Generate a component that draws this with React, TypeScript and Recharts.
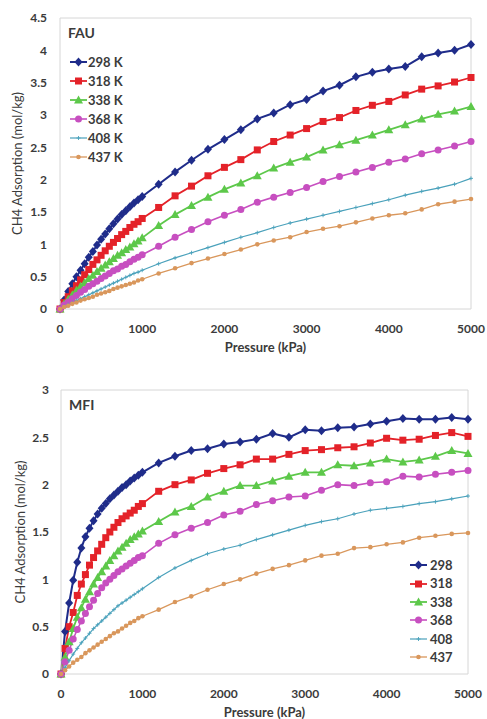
import { LineChart, Line, XAxis, YAxis, ReferenceLine, Label } from 'recharts'

// pressure steps (kPa): every 50 up to 1000, then every 200
const pressure = [
  0, 50, 100, 150, 200, 250, 300, 350, 400, 450, 500, 550, 600, 650, 700, 750, 800, 850, 900, 950, 1000,
  1200, 1400, 1600, 1800, 2000, 2200, 2400, 2600, 2800, 3000, 3200, 3400, 3600, 3800, 4000, 4200, 4400, 4600, 4800, 5000,
]

// FAU uptake (mol/kg)
const fau298 = [
  0, 0.14, 0.27, 0.39, 0.5, 0.6, 0.7, 0.8, 0.89, 0.99, 1.08, 1.16, 1.24, 1.32, 1.39, 1.46, 1.52, 1.58, 1.64, 1.69, 1.74,
  1.93, 2.12, 2.3, 2.47, 2.62, 2.77, 2.94, 3.03, 3.16, 3.24, 3.37, 3.46, 3.59, 3.66, 3.71, 3.75, 3.9, 3.96, 4.0, 4.09,
]
const fau318 = [
  0, 0.1, 0.19, 0.28, 0.36, 0.45, 0.53, 0.61, 0.69, 0.76, 0.83, 0.9, 0.97, 1.03, 1.09, 1.15, 1.2, 1.26, 1.31, 1.35, 1.4,
  1.57, 1.75, 1.9, 2.06, 2.19, 2.31, 2.46, 2.59, 2.69, 2.79, 2.9, 2.96, 3.07, 3.15, 3.21, 3.31, 3.4, 3.45, 3.51, 3.58,
]
const fau338 = [
  0, 0.08, 0.15, 0.22, 0.29, 0.35, 0.41, 0.47, 0.52, 0.58, 0.63, 0.68, 0.73, 0.78, 0.83, 0.87, 0.92, 0.96, 1.01, 1.05, 1.1,
  1.29, 1.46, 1.6, 1.73, 1.85, 1.95, 2.06, 2.18, 2.27, 2.35, 2.46, 2.54, 2.61, 2.69, 2.77, 2.85, 2.94, 3.01, 3.06, 3.13,
]
const fau368 = [
  0, 0.06, 0.11, 0.16, 0.21, 0.26, 0.3, 0.35, 0.39, 0.43, 0.47, 0.51, 0.55, 0.59, 0.62, 0.66, 0.69, 0.73, 0.77, 0.8, 0.84,
  0.97, 1.11, 1.23, 1.35, 1.45, 1.54, 1.65, 1.73, 1.8, 1.88, 1.97, 2.05, 2.12, 2.19, 2.27, 2.32, 2.4, 2.46, 2.52, 2.59,
]
const fau408 = [
  0, 0.04, 0.07, 0.1, 0.13, 0.16, 0.19, 0.22, 0.25, 0.28, 0.31, 0.34, 0.37, 0.4, 0.43, 0.46, 0.49, 0.52, 0.55, 0.57, 0.6,
  0.7, 0.79, 0.87, 0.95, 1.03, 1.11, 1.18, 1.26, 1.33, 1.39, 1.45, 1.51, 1.57, 1.63, 1.69, 1.76, 1.82, 1.87, 1.93, 2.02,
]
const fau437 = [
  0, 0.03, 0.05, 0.08, 0.1, 0.13, 0.15, 0.17, 0.19, 0.22, 0.24, 0.26, 0.28, 0.31, 0.33, 0.35, 0.37, 0.39, 0.41, 0.44, 0.46,
  0.55, 0.63, 0.71, 0.78, 0.85, 0.92, 1.0, 1.06, 1.11, 1.19, 1.24, 1.28, 1.34, 1.4, 1.45, 1.48, 1.54, 1.62, 1.66, 1.7,
]

// MFI uptake (mol/kg)
const mfi298 = [
  0, 0.45, 0.75, 0.99, 1.18, 1.33, 1.45, 1.54, 1.62, 1.69, 1.75, 1.8, 1.85, 1.89, 1.93, 1.97, 2.0, 2.04, 2.07, 2.1, 2.13,
  2.23, 2.3, 2.36, 2.38, 2.43, 2.45, 2.48, 2.54, 2.5, 2.58, 2.57, 2.6, 2.61, 2.64, 2.67, 2.7, 2.69, 2.69, 2.71, 2.69,
]
const mfi318 = [
  0, 0.27, 0.5, 0.65, 0.83, 0.95, 1.05, 1.15, 1.23, 1.3, 1.37, 1.44, 1.5, 1.55, 1.6, 1.64, 1.67, 1.7, 1.73, 1.77, 1.8,
  1.93, 2.0, 2.05, 2.12, 2.17, 2.21, 2.27, 2.27, 2.32, 2.36, 2.37, 2.39, 2.4, 2.44, 2.49, 2.47, 2.48, 2.52, 2.55, 2.51,
]
const mfi338 = [
  0, 0.18, 0.34, 0.48, 0.6, 0.7, 0.79, 0.87, 0.95, 1.02, 1.08, 1.14, 1.2, 1.25, 1.3, 1.34, 1.38, 1.42, 1.45, 1.48, 1.51,
  1.61, 1.71, 1.77, 1.87, 1.93, 1.99, 1.99, 2.04, 2.09, 2.13, 2.13, 2.21, 2.2, 2.23, 2.27, 2.24, 2.26, 2.3, 2.36, 2.33,
]
const mfi368 = [
  0, 0.13, 0.25, 0.37, 0.47, 0.56, 0.64, 0.71, 0.78, 0.85, 0.91, 0.96, 1.0, 1.04, 1.08, 1.11, 1.14, 1.17, 1.2, 1.23, 1.25,
  1.38, 1.47, 1.54, 1.6, 1.68, 1.72, 1.79, 1.83, 1.87, 1.88, 1.94, 2.0, 1.99, 2.02, 2.03, 2.09, 2.08, 2.11, 2.13, 2.15,
]
const mfi408 = [
  0, 0.07, 0.14, 0.21, 0.27, 0.33, 0.38, 0.43, 0.48, 0.52, 0.56, 0.6, 0.64, 0.68, 0.72, 0.75, 0.78, 0.81, 0.84, 0.87, 0.9,
  1.02, 1.12, 1.2, 1.27, 1.32, 1.36, 1.42, 1.47, 1.52, 1.57, 1.61, 1.64, 1.69, 1.73, 1.75, 1.77, 1.8, 1.82, 1.85, 1.88,
]
const mfi437 = [
  0, 0.04, 0.08, 0.12, 0.15, 0.18, 0.22, 0.25, 0.28, 0.31, 0.34, 0.37, 0.4, 0.43, 0.45, 0.48, 0.51, 0.54, 0.56, 0.59, 0.61,
  0.68, 0.76, 0.82, 0.89, 0.95, 1.0, 1.06, 1.11, 1.15, 1.2, 1.25, 1.27, 1.33, 1.34, 1.37, 1.39, 1.44, 1.46, 1.48, 1.49,
]

const temps = ['298', '318', '338', '368', '408', '437']
const xTicks = [0, 1000, 2000, 3000, 4000, 5000]
const fauTicks = [0, 0.5, 1, 1.5, 2, 2.5, 3, 3.5, 4, 4.5]
const mfiTicks = [0, 0.5, 1, 1.5, 2, 2.5, 3]

type Shape = 'diamond' | 'square' | 'triangle' | 'circle' | 'plus' | 'dot'

const SERIES_STYLE: { color: string; shape: Shape; width: number }[] = [
  { color: '#1f2c8a', shape: 'diamond', width: 2 },
  { color: '#e42229', shape: 'square', width: 1.8 },
  { color: '#5dc84a', shape: 'triangle', width: 1.8 },
  { color: '#c74fc0', shape: 'circle', width: 1.6 },
  { color: '#4aa1bb', shape: 'plus', width: 1.2 },
  { color: '#d9975c', shape: 'dot', width: 1.3 },
]

const FONT = 'Lato, "Open Sans", sans-serif'
const TEXT = '#3b3b3b'
const FRAME = '#d6d6d6'

function toRows(series: number[][]) {
  return pressure.map((p, i) => {
    const row: Record<string, number> = { p }
    series.forEach((s, j) => {
      row['t' + temps[j]] = s[i]
    })
    return row
  })
}

function Marker({ cx, cy, shape, color }: { cx: number; cy: number; shape: Shape; color: string }) {
  switch (shape) {
    case 'diamond':
      return <path d={`M${cx},${cy - 4.5}L${cx + 4},${cy}L${cx},${cy + 4.5}L${cx - 4},${cy}Z`} fill={color} />
    case 'square':
      return <rect x={cx - 3.5} y={cy - 3.5} width={7} height={7} fill={color} />
    case 'triangle':
      return <path d={`M${cx},${cy - 4.5}L${cx + 4.5},${cy + 3.5}L${cx - 4.5},${cy + 3.5}Z`} fill={color} />
    case 'circle':
      return <circle cx={cx} cy={cy} r={3.5} fill={color} />
    case 'plus':
      return (
        <path
          d={`M${cx - 2},${cy}H${cx + 2}M${cx},${cy - 2}V${cy + 2}`}
          stroke={color}
          strokeWidth={0.9}
          fill="none"
        />
      )
    default:
      return <circle cx={cx} cy={cy} r={2.3} fill={color} />
  }
}

function LegendBox({
  left,
  top,
  rowHeight,
  labels,
  textGap,
}: {
  left: number
  top: number
  rowHeight: number
  labels: string[]
  textGap: number
}) {
  return (
    <div style={{ position: 'absolute', left, top, fontFamily: FONT, fontWeight: 700, fontSize: 13, color: TEXT }}>
      {labels.map((label, i) => {
        const st = SERIES_STYLE[i]
        return (
          <div key={label} style={{ display: 'flex', alignItems: 'center', height: rowHeight }}>
            <svg width={17} height={10} style={{ overflow: 'visible' }}>
              <line x1={0} y1={5} x2={17} y2={5} stroke={st.color} strokeWidth={st.width} />
              <Marker cx={8.5} cy={5} shape={st.shape} color={st.color} />
            </svg>
            <span style={{ marginLeft: textGap, lineHeight: `${rowHeight}px` }}>{label}</span>
          </div>
        )
      })}
    </div>
  )
}

interface PanelProps {
  top: number
  height: number
  series: number[][]
  yMax: number
  yTicks: number[]
  margin: { top: number; right: number; bottom: number; left: number }
  yWidth: number
  xHeight: number
  yTickMargin: number
  yLabelDx: number
}

function Panel({ top, height, series, yMax, yTicks, margin, yWidth, xHeight, yTickMargin, yLabelDx }: PanelProps) {
  const rows = toRows(series)
  const tickStyle = { fontFamily: FONT, fontWeight: 700, fontSize: 12, fill: TEXT }
  return (
    <div style={{ position: 'absolute', left: 0, top }}>
      <LineChart width={487} height={height} data={rows} margin={margin}>
        <XAxis
          type="number"
          dataKey="p"
          domain={[0, 5000]}
          ticks={xTicks}
          tickLine={false}
          tickSize={0}
          tickMargin={15}
          height={xHeight}
          axisLine={{ stroke: FRAME }}
          tick={tickStyle}
          interval={0}
        >
          <Label
            value="Pressure (kPa)"
            position="insideTop"
            offset={34}
            style={{ fontFamily: FONT, fontWeight: 700, fontSize: 13, fill: TEXT }}
          />
        </XAxis>
        <YAxis
          type="number"
          domain={[0, yMax]}
          ticks={yTicks}
          tickLine={false}
          tickSize={0}
          tickMargin={yTickMargin}
          width={yWidth}
          axisLine={{ stroke: FRAME }}
          tick={tickStyle}
          interval={0}
        >
          <Label
            value="CH4 Adsorption (mol/kg)"
            angle={-90}
            position="center"
            dx={yLabelDx}
            style={{ fontFamily: FONT, fontSize: 13, fill: TEXT, textAnchor: 'middle' }}
          />
        </YAxis>
        <ReferenceLine y={yMax} stroke={FRAME} />
        <ReferenceLine x={5000} stroke={FRAME} />
        {temps.map((t, j) => {
          const st = SERIES_STYLE[j]
          return (
            <Line
              key={t}
              dataKey={'t' + t}
              type="linear"
              stroke={st.color}
              strokeWidth={st.width}
              isAnimationActive={false}
              activeDot={false}
              dot={(props: any) => (
                <Marker
                  key={`${t}-${props.index}`}
                  cx={props.cx}
                  cy={props.cy}
                  shape={st.shape}
                  color={st.color}
                />
              )}
            />
          )
        })}
      </LineChart>
    </div>
  )
}

const titleStyle = {
  position: 'absolute' as const,
  fontFamily: FONT,
  fontWeight: 700,
  fontSize: 14,
  color: TEXT,
  lineHeight: '14px',
}

export default function App() {
  return (
    <div style={{ position: 'absolute', left: 0, top: 0, width: 487, height: 719, background: '#fff' }}>
      <Panel
        top={0}
        height={360}
        series={[fau298, fau318, fau338, fau368, fau408, fau437]}
        yMax={4.5}
        yTicks={fauTicks}
        margin={{ top: 18, right: 16, bottom: 0, left: 0 }}
        yWidth={60}
        xHeight={51}
        yTickMargin={13}
        yLabelDx={-13}
      />
      <div style={{ ...titleStyle, left: 68, top: 26 }}>FAU</div>
      <LegendBox left={70} top={52.5} rowHeight={19} labels={temps.map((t) => `${t} K`)} textGap={1} />

      <Panel
        top={350}
        height={369}
        series={[mfi298, mfi318, mfi338, mfi368, mfi408, mfi437]}
        yMax={3}
        yTicks={mfiTicks}
        margin={{ top: 40, right: 19, bottom: 0, left: 0 }}
        yWidth={61}
        xHeight={45}
        yTickMargin={12}
        yLabelDx={-10}
      />
      <div style={{ ...titleStyle, left: 69, top: 398 }}>MFI</div>
      <LegendBox left={410} top={556} rowHeight={18.4} labels={temps} textGap={3} />
    </div>
  )
}
